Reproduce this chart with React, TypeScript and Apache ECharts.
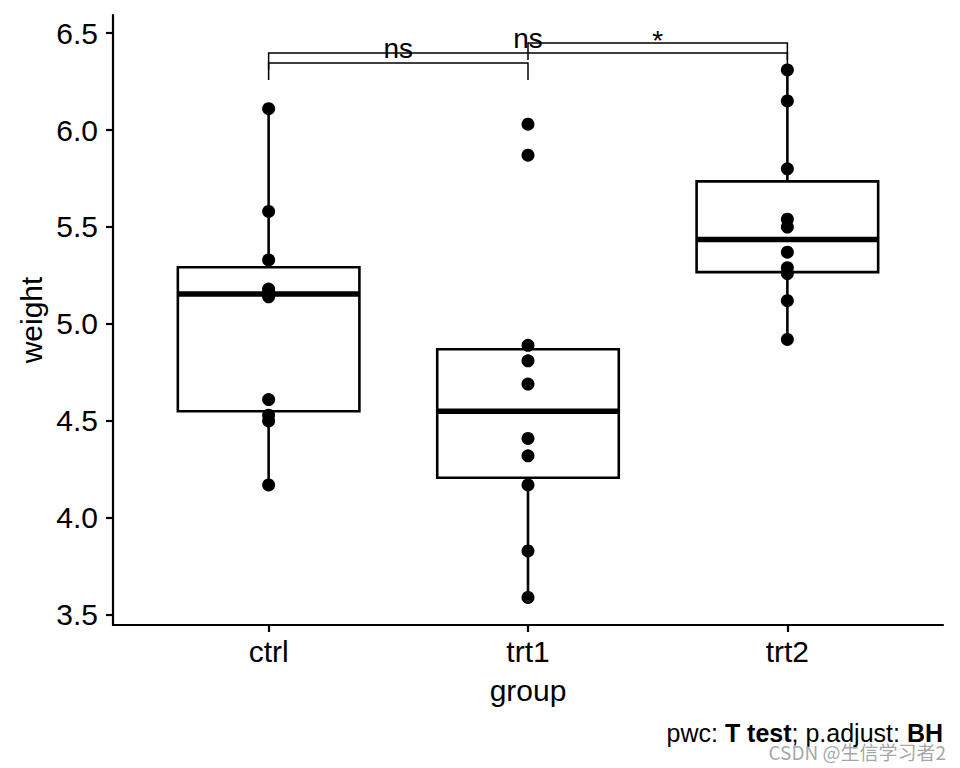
import React, { useEffect, useRef } from "react";
import * as echarts from "echarts";

// ---- Data (PlantGrowth) ----
const groups = ["ctrl", "trt1", "trt2"];
const ctrlWeights = [4.17, 5.58, 5.18, 6.11, 4.5, 4.61, 5.17, 4.53, 5.33, 5.14];
const trt1Weights = [4.81, 4.17, 4.41, 3.59, 5.87, 3.83, 6.03, 4.89, 4.32, 4.69];
const trt2Weights = [6.31, 5.12, 5.54, 5.5, 5.37, 5.29, 4.92, 6.15, 5.8, 5.26];

// Box statistics
const whiskerLow = [4.17, 3.59, 4.92];
const q1 = [4.55, 4.2075, 5.2675];
const median = [5.155, 4.55, 5.435];
const q3 = [5.2925, 4.87, 5.735];
const whiskerHigh = [6.11, 4.89, 6.31];

// Y ticks
const yTicks = [3.5, 4.0, 4.5, 5.0, 5.5, 6.0, 6.5];

// Pairwise comparison brackets
const bracketStart = [1, 1, 2];
const bracketEnd = [2, 3, 3];
const bracketY = [6.345, 6.397, 6.448];
const bracketLabels = ["ns", "ns", "*"];

const FONT = "'Liberation Sans', Arial, Helvetica, sans-serif";

export default function App() {
  const ref = useRef<HTMLDivElement>(null);

  useEffect(() => {
    if (!ref.current) return;
    const chart = echarts.init(ref.current, null, { renderer: "svg" });

    const allGroups = [ctrlWeights, trt1Weights, trt2Weights];
    const points: number[][] = [];
    allGroups.forEach((arr, gi) => arr.forEach((v) => points.push([gi + 1, v])));

    const boxData = groups.map((_, i) => [
      i + 1,
      whiskerLow[i],
      q1[i],
      median[i],
      q3[i],
      whiskerHigh[i],
    ]);

    const bracketData = bracketStart.map((s, i) => [s, bracketEnd[i], bracketY[i]]);

    const option: any = {
      animation: false,
      backgroundColor: "#ffffff",
      textStyle: { fontFamily: FONT },
      grid: { left: 113, right: 17, top: 15, bottom: 143, containLabel: false },
      xAxis: {
        type: "value",
        min: 0.4,
        max: 3.6,
        splitLine: { show: false },
        axisLine: { show: true, lineStyle: { color: "#000", width: 2.2 } },
        axisTick: {
          show: true,
          customValues: [1, 2, 3],
          length: 7,
          lineStyle: { color: "#000", width: 2.2 },
        },
        axisLabel: {
          customValues: [1, 2, 3],
          formatter: (v: number) => groups[Math.round(v) - 1],
          color: "#000",
          fontSize: 30,
          fontFamily: FONT,
          margin: 11,
        },
      },
      yAxis: {
        type: "value",
        min: 3.448,
        max: 6.593,
        splitLine: { show: false },
        axisLine: { show: true, lineStyle: { color: "#000", width: 2.2 } },
        axisTick: {
          show: true,
          customValues: yTicks,
          length: 7,
          lineStyle: { color: "#000", width: 2.2 },
        },
        axisLabel: {
          customValues: yTicks,
          formatter: (v: number) => v.toFixed(1),
          color: "#000",
          fontSize: 30,
          fontFamily: FONT,
          margin: 15,
        },
      },
      series: [
        {
          type: "custom",
          name: "box",
          data: boxData,
          z: 2,
          renderItem: (params: any, api: any) => {
            const x = api.value(0);
            const lo = api.coord([x, api.value(1)]);
            const b1 = api.coord([x, api.value(2)]);
            const md = api.coord([x, api.value(3)]);
            const b3 = api.coord([x, api.value(4)]);
            const hi = api.coord([x, api.value(5)]);
            const half = api.size([0.7, 0])[0] / 2;
            const cx = lo[0];
            const stroke = { stroke: "#000", lineWidth: 2.6 };
            return {
              type: "group",
              children: [
                { type: "line", shape: { x1: cx, y1: b3[1], x2: cx, y2: hi[1] }, style: stroke },
                { type: "line", shape: { x1: cx, y1: b1[1], x2: cx, y2: lo[1] }, style: stroke },
                {
                  type: "rect",
                  shape: { x: cx - half, y: b3[1], width: half * 2, height: b1[1] - b3[1] },
                  style: { fill: "#fff", stroke: "#000", lineWidth: 2.6 },
                },
                {
                  type: "line",
                  shape: { x1: cx - half, y1: md[1], x2: cx + half, y2: md[1] },
                  style: { stroke: "#000", lineWidth: 5.5 },
                },
              ],
            };
          },
        },
        {
          type: "scatter",
          name: "points",
          data: points,
          symbol: "circle",
          symbolSize: 13,
          itemStyle: { color: "#000", opacity: 1 },
          z: 3,
        },
        {
          type: "custom",
          name: "brackets",
          data: bracketData,
          z: 4,
          clip: false,
          renderItem: (params: any, api: any) => {
            const i = params.dataIndex;
            const y = api.value(2);
            const p1 = api.coord([api.value(0), y]);
            const p2 = api.coord([api.value(1), y]);
            const tip = 17;
            const label = bracketLabels[i];
            const dy = label === "*" ? -3 : -15;
            return {
              type: "group",
              children: [
                {
                  type: "polyline",
                  shape: {
                    points: [
                      [p1[0], p1[1] + tip],
                      [p1[0], p1[1]],
                      [p2[0], p2[1]],
                      [p2[0], p2[1] + tip],
                    ],
                  },
                  style: { stroke: "#000", lineWidth: 1.5, fill: "none" },
                },
                {
                  type: "text",
                  x: (p1[0] + p2[0]) / 2,
                  y: p1[1] + dy,
                  style: {
                    text: label,
                    fontSize: 28,
                    fontFamily: FONT,
                    fill: "#000",
                    align: "center",
                    verticalAlign: "middle",
                  },
                },
              ],
            };
          },
        },
      ],
      graphic: [
        {
          type: "text",
          x: 31,
          y: 320,
          rotation: Math.PI / 2,
          style: {
            text: "weight",
            fontSize: 30,
            fontFamily: FONT,
            fill: "#000",
            align: "center",
            verticalAlign: "middle",
          },
        },
        {
          type: "text",
          x: 528,
          y: 690,
          style: {
            text: "group",
            fontSize: 30,
            fontFamily: FONT,
            fill: "#000",
            align: "center",
            verticalAlign: "middle",
          },
        },
        {
          type: "text",
          x: 943,
          y: 733,
          style: {
            text: "{n|pwc: }{b|T test}{n|; p.adjust: }{b|BH}",
            align: "right",
            verticalAlign: "middle",
            rich: {
              n: { fontSize: 25, fontFamily: FONT, color: "#000" },
              b: { fontSize: 25, fontFamily: FONT, color: "#000", fontWeight: "bold" },
            },
          },
        },
        {
          type: "text",
          x: 946,
          y: 751,
          style: {
            text: "CSDN @生信学习者2",
            fontSize: 19,
            fontFamily: "'Noto Sans CJK SC', sans-serif",
            fill: "rgba(150,150,150,0.85)",
            align: "right",
            verticalAlign: "middle",
          },
        },
      ],
    };

    chart.setOption(option);
    return () => chart.dispose();
  }, []);

  return (
    <div
      ref={ref}
      style={{ position: "fixed", left: 0, top: 0, width: 960, height: 768, background: "#fff" }}
    />
  );
}
